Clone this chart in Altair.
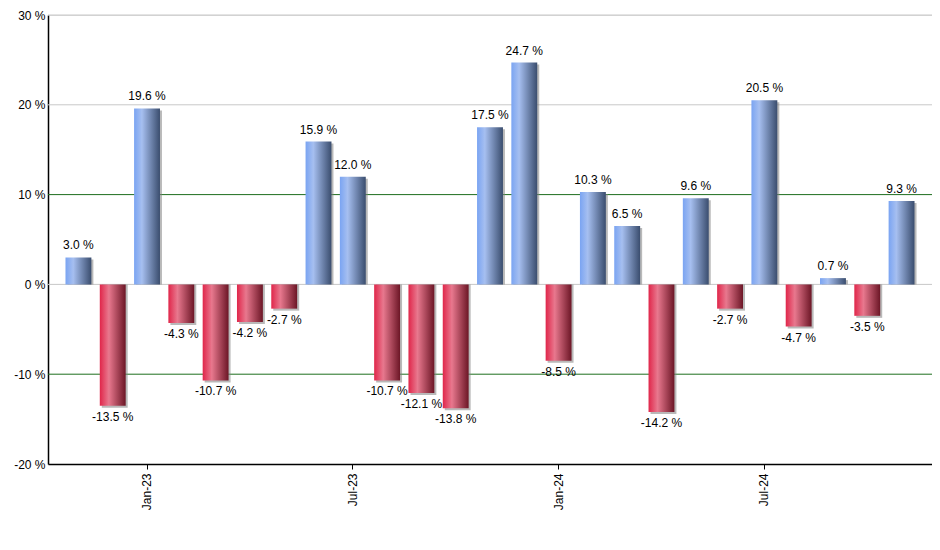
import altair as alt
import pandas as pd

months = ["Nov-22", "Dec-22", "Jan-23", "Feb-23", "Mar-23", "Apr-23", "May-23", "Jun-23",
          "Jul-23", "Aug-23", "Sep-23", "Oct-23", "Nov-23", "Dec-23", "Jan-24", "Feb-24",
          "Mar-24", "Apr-24", "May-24", "Jun-24", "Jul-24", "Aug-24", "Sep-24", "Oct-24", "Nov-24"]
returns = [3.0, -13.5, 19.6, -4.3, -10.7, -4.2, -2.7, 15.9, 12.0, -10.7, -12.1, -13.8, 17.5,
           24.7, -8.5, 10.3, 6.5, -14.2, 9.6, -2.7, 20.5, -4.7, 0.7, -3.5, 9.3]
y_ticks = [30, 20, 10, 0, -10, -20]
light_grid = [30, 20, 0]
green_grid = [10, -10]

df = pd.DataFrame({"month": months, "value": returns})
df["label"] = [f"{v:.1f} %" for v in returns]

FONT = "Liberation Sans"
JANJUL = "indexof(datum.value,'Jan')==0 || indexof(datum.value,'Jul')==0"

x_enc = alt.X(
    "month:N", sort=months, title=None,
    scale=alt.Scale(paddingInner=0.245, paddingOuter=0.51),
    axis=alt.Axis(
        labelAngle=270, labelAlign="right", labelBaseline="middle",
        labelExpr="(" + JANJUL + ") ? datum.value : ''",
        tickColor={"condition": {"test": JANJUL, "value": "black"}, "value": "transparent"},
        tickSize=5, labelPadding=4, domainColor="black", domainWidth=1.5,
        labelFont=FONT, labelFontSize=12, labelColor="black", grid=False,
    ),
)
y_scale = alt.Scale(domain=[-20, 30], nice=False, zero=False)
y_enc = alt.Y(
    "value:Q", scale=y_scale, title=None,
    axis=alt.Axis(values=y_ticks, labelExpr="datum.value + ' %'", grid=False, ticks=False,
                  labelPadding=3, domainColor="black", domainWidth=1.5,
                  labelFont=FONT, labelFontSize=12, labelColor="black"),
)

blue = alt.LinearGradient(gradient="linear", x1=0, x2=1, y1=0, y2=0, stops=[
    alt.GradientStop(color="#7aa4f2", offset=0),
    alt.GradientStop(color="#a6bff0", offset=0.3),
    alt.GradientStop(color="#3a4d6e", offset=1)])
red = alt.LinearGradient(gradient="linear", x1=0, x2=1, y1=0, y2=0, stops=[
    alt.GradientStop(color="#e0264a", offset=0),
    alt.GradientStop(color="#e8788e", offset=0.35),
    alt.GradientStop(color="#6c1626", offset=1)])

grid_light = alt.Chart(pd.DataFrame({"g": light_grid})).mark_rule(color="#c8c8c8", strokeWidth=1).encode(
    y=alt.Y("g:Q", scale=y_scale))
grid_green = alt.Chart(pd.DataFrame({"g": green_grid})).mark_rule(color="#1e6e1e", strokeWidth=1).encode(
    y=alt.Y("g:Q", scale=y_scale))

base = alt.Chart(df)
shadow = base.mark_bar(color="#808080", opacity=0.55, xOffset=2, yOffset=2).encode(
    x=x_enc, y=y_enc, y2=alt.datum(0))
pos_bars = base.transform_filter("datum.value >= 0").mark_bar(color=blue).encode(
    x=x_enc, y=y_enc, y2=alt.datum(0))
neg_bars = base.transform_filter("datum.value < 0").mark_bar(color=red).encode(
    x=x_enc, y=y_enc, y2=alt.datum(0))
pos_text = base.transform_filter("datum.value >= 0").mark_text(
    baseline="bottom", dy=-5, font=FONT, fontSize=12, color="black").encode(
    x=x_enc, y=y_enc, text="label:N")
neg_text = base.transform_filter("datum.value < 0").mark_text(
    baseline="top", dy=6, font=FONT, fontSize=12, color="black").encode(
    x=x_enc, y=y_enc, text="label:N")

chart = alt.layer(grid_light, grid_green, shadow, pos_bars, neg_bars, pos_text, neg_text).properties(
    width=884, height=449,
    autosize=alt.AutoSizeParams(type="none"),
    padding={"left": 40, "top": 7, "right": 0, "bottom": 70},
).configure_view(stroke=None).configure(background="white")

chart.save("out.html", embed_options={"renderer": "svg", "actions": False})
